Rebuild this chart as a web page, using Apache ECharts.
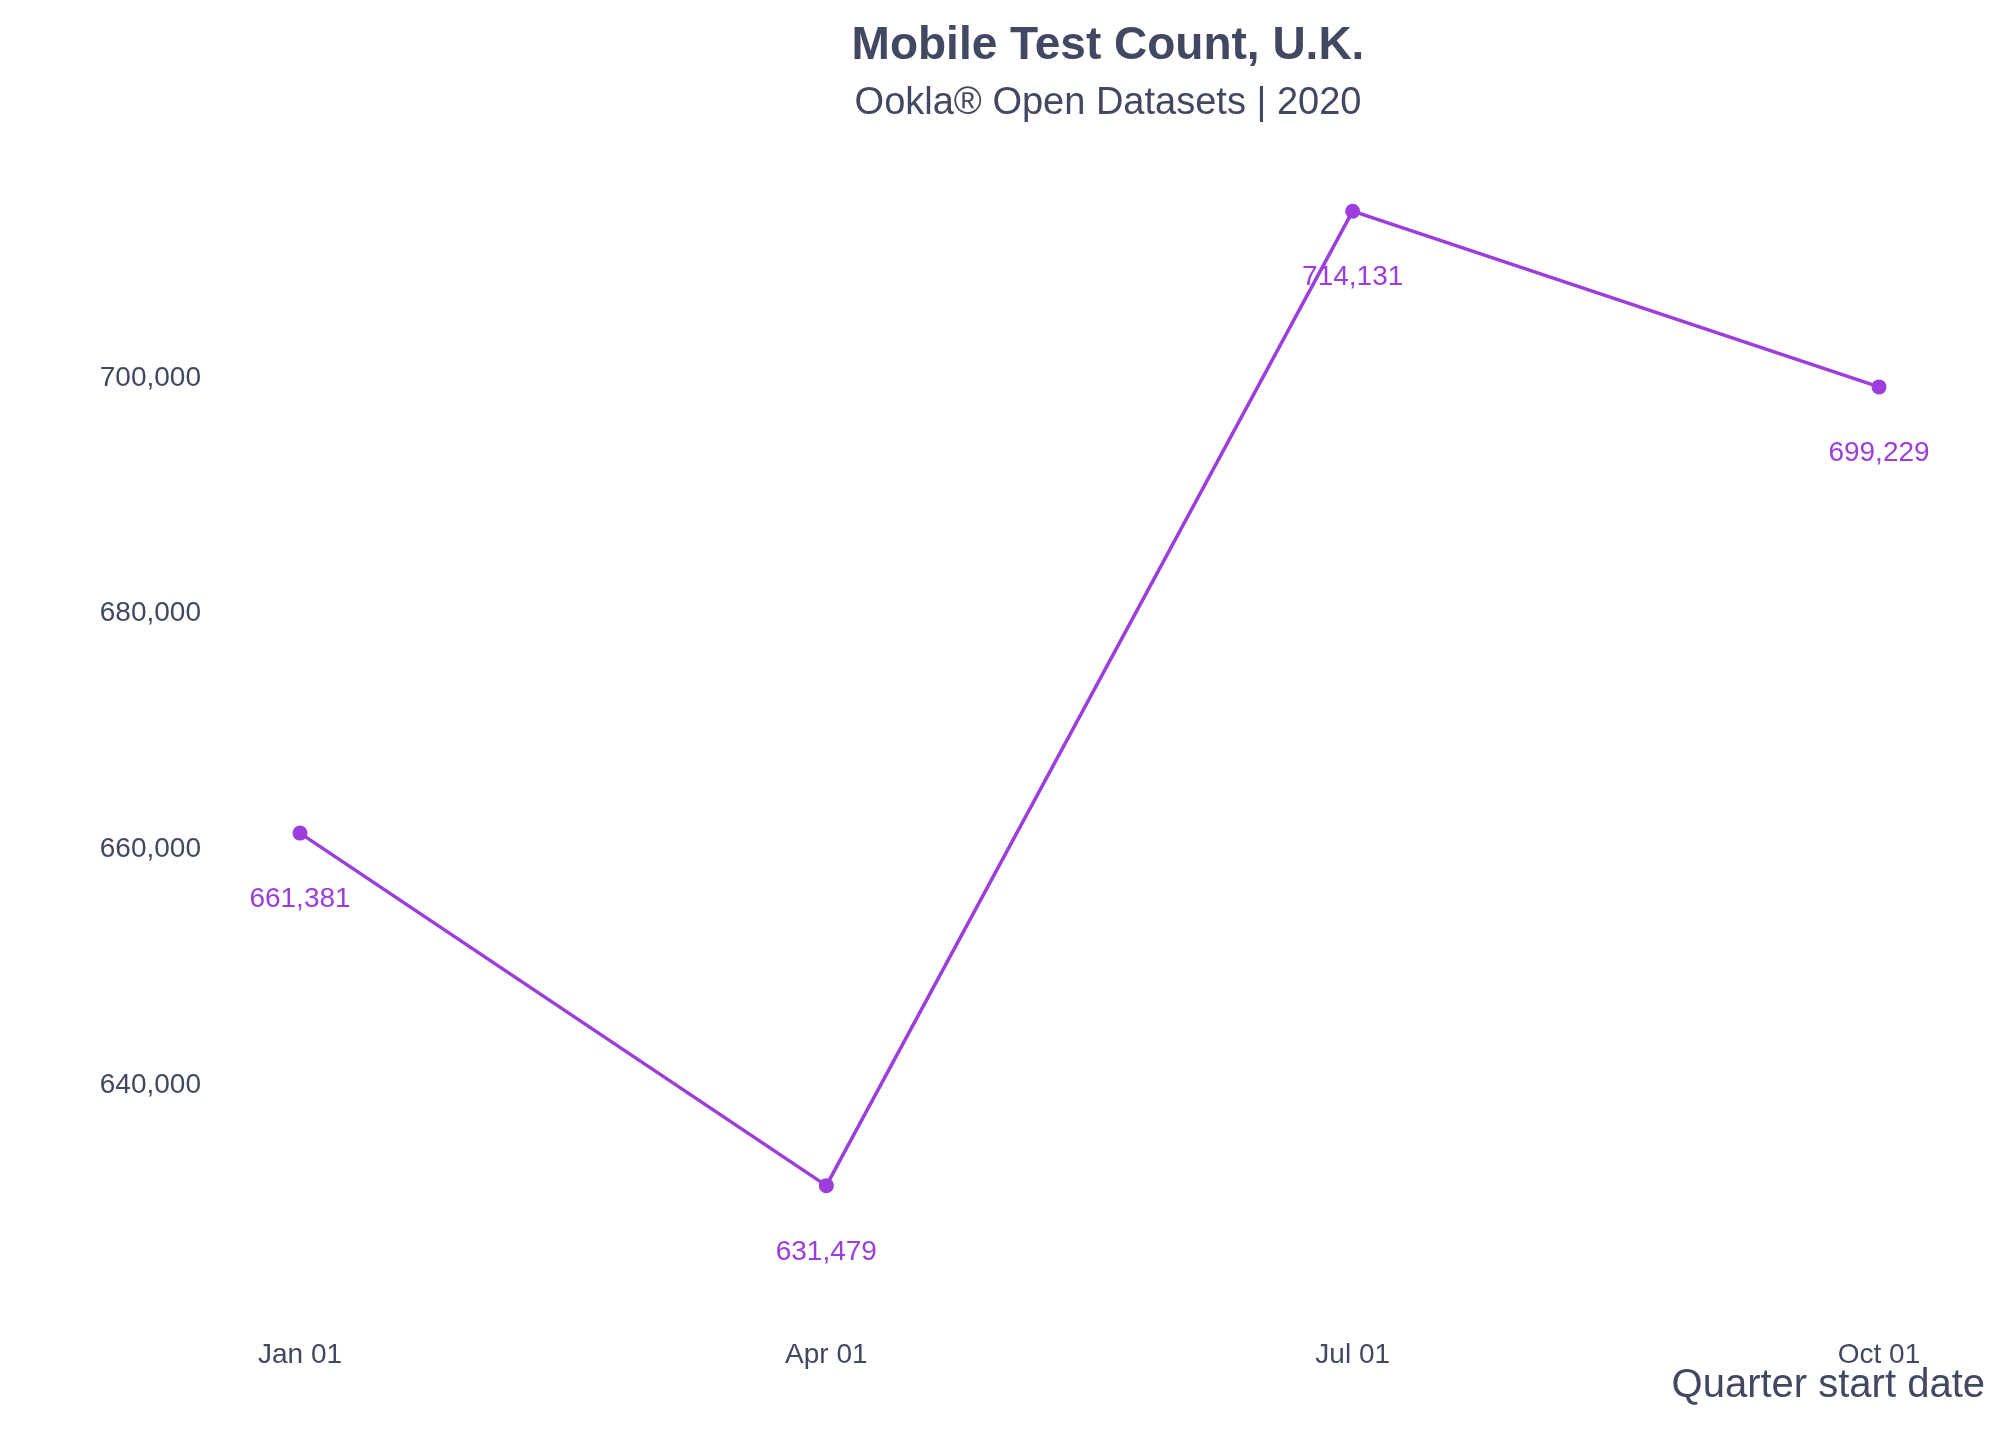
<!DOCTYPE html>
<html><head><meta charset="utf-8">
<script src="https://cdn.jsdelivr.net/npm/echarts@6/dist/echarts.min.js"></script>
<style>html,body{margin:0;padding:0;background:#fff}#c{width:2000px;height:1429px}</style>
</head><body><div id="c"></div>
<script>
const categories = ['Jan 01','Apr 01','Jul 01','Oct 01'];
const values = [661381, 631479, 714131, 699229];
const yTicks = [640000, 660000, 680000, 700000];
const txt = '#434862', purple = '#9c3ddc';
const chart = echarts.init(document.getElementById('c'));
chart.setOption({
  backgroundColor:'#fff',
  textStyle:{fontFamily:'Liberation Sans'},
  title:{text:'Mobile Test Count, U.K.',subtext:'Ookla® Open Datasets | 2020',left:1103,textAlign:'center',top:18,itemGap:16,
    textStyle:{fontSize:46,fontWeight:'bold',color:txt,fontFamily:'Liberation Sans'},
    subtextStyle:{fontSize:38,color:txt,fontFamily:'Liberation Sans'}},
  grid:{left:300,right:121,top:142,bottom:108},
  xAxis:{type:'category',data:categories,boundaryGap:false,axisLine:{show:false},axisTick:{show:false},
    axisLabel:{fontSize:28,color:txt,margin:20},splitLine:{show:false}},
  yAxis:{type:'value',min:620000,max:720000,interval:20000,splitLine:{show:false},axisLine:{show:false},axisTick:{show:false},
    axisLabel:{fontSize:28,color:txt,margin:99,formatter:v=>yTicks.includes(v)?v.toLocaleString('en-US'):''}},
  graphic:[{type:'text',right:15,top:1366,style:{text:'Quarter start date',fontSize:40,fill:txt,fontFamily:'Liberation Sans'}}],
  series:[{type:'line',data:values,symbol:'circle',symbolSize:15,
    lineStyle:{color:purple,width:3.5},itemStyle:{color:purple},
    label:{show:true,position:'bottom',distance:45,fontSize:28,color:purple,formatter:p=>p.value.toLocaleString('en-US')}}]
});
</script></body></html>
